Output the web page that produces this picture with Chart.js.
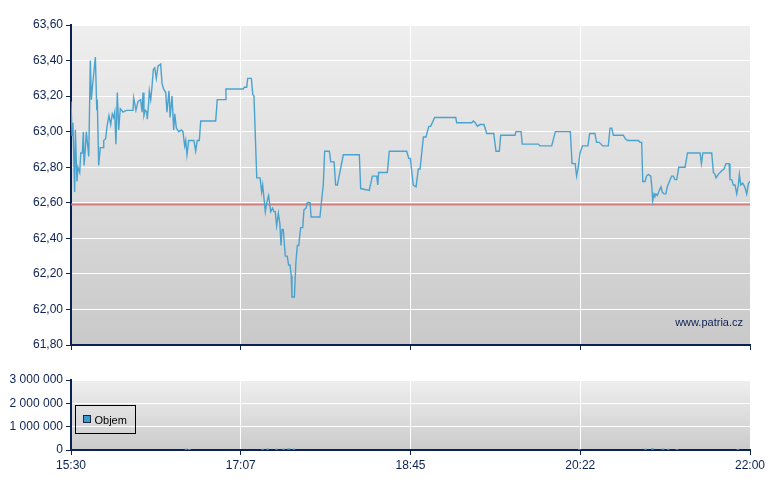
<!DOCTYPE html>
<html>
<head>
<meta charset="utf-8">
<script src="https://cdn.jsdelivr.net/npm/chart.js@4/dist/chart.umd.min.js"></script>
<style>
  body { margin: 0; background: #ffffff; }
  #wrap { position: relative; width: 780px; height: 490px; }
  canvas { position: absolute; left: 0; }
</style>
</head>
<body>
<div id="wrap">
  <canvas id="price" width="780" height="360" style="top:0"></canvas>
  <canvas id="volume" width="780" height="130" style="top:360px"></canvas>
</div>
<script>
// Intraday price + volume (15:30 - 22:00), x values are minutes after 15:30

const NAVY = "#0c2154";

const timeLabels = ["15:30", "17:07", "18:45", "20:22", "22:00"];
const priceTicks = [61.8, 62.0, 62.2, 62.4, 62.6, 62.8, 63.0, 63.2, 63.4, 63.6];
const volumeTicks = [0, 1000000, 2000000, 3000000];

const priceTimes = [
  0, 0.6, 1.1, 2.1, 2.5, 3.4, 4.0, 5.0, 5.6, 6.5, 7.1, 7.5, 8.2, 8.8, 10.2, 11.1, 11.7, 12.2,
  14.0, 14.8, 15.1, 15.9, 16.8, 18.4, 18.8, 19.9, 20.7, 21.8, 22.8, 23.7, 24.5, 25.1, 25.8,
  26.6, 27.4, 28.3, 29.9, 31.8, 35.6, 36.0, 37.3, 38.5, 40.0, 40.8, 41.4, 41.9, 42.7, 43.5,
  43.8, 44.6, 45.0, 45.8, 46.5, 47.3, 48.1, 49.0, 50.0, 51.5, 52.3, 53.2, 54.4, 55.1, 56.3,
  56.9, 58.0, 59.0, 59.6, 60.5, 61.9, 63.4, 64.3, 65.3, 65.9, 66.6, 67.6, 70.6, 71.6, 72.5,
  73.7, 74.5, 83.1, 84.0, 88.6, 89.0, 99.0, 99.5, 100.9, 101.5, 103.6, 104.4, 105.1, 106.7,
  108.6, 109.5, 110.1, 110.9, 111.6, 112.4, 113.5, 114.7, 115.8, 116.6, 117.3, 118.1, 119.1,
  120.0, 120.6, 121.2, 121.9, 123.1, 124.2, 125.0, 125.8, 126.5, 126.9, 128.3, 129.2, 130.0,
  130.8, 131.9, 133.1, 133.8, 135.0, 135.7, 137.3, 137.9, 143.0, 144.0, 144.9, 145.7, 148.4,
  149.2, 151.1, 152.0, 153.0, 156.4, 165.6, 166.4, 171.3, 173.1, 175.6, 176.2, 176.7, 181.7,
  182.8, 192.8, 194.0, 194.9, 196.6, 198.2, 199.5, 200.5, 202.4, 203.9, 205.5, 206.6, 208.9,
  221.0, 221.5, 230.2, 231.1, 232.2, 233.4, 234.9, 237.2, 238.8, 242.8, 244.1, 246.0, 246.8,
  255.0, 255.6, 258.5, 259.2, 268.4, 269.4, 276.1, 278.2, 286.8, 287.8, 289.6, 290.4, 291.2,
  292.4, 293.8, 296.9, 297.9, 300.9, 301.9, 303.4, 305.4, 308.6, 309.6, 310.6, 311.5, 317.2,
  318.4, 319.7, 325.9, 326.8, 327.8, 328.4, 329.7, 330.6, 331.6, 333.0, 333.7, 334.1, 334.9,
  335.4, 336.0, 336.8, 337.9, 338.9, 339.6, 340.6, 341.7, 342.5, 344.1, 345.0, 346.0, 346.9,
  347.9, 349.1, 352.7, 354.1, 361.3, 362.1, 362.9, 368.0, 369.0, 369.9, 370.5, 371.8, 373.8,
  375.1, 376.2, 378.0, 378.5, 379.5, 380.4, 381.4, 382.4, 383.3, 383.9, 384.7, 385.8, 387.0,
  388.1, 389.1, 390
];

const prices = [
  63.17, 62.98, 63.05, 62.66, 63.01, 62.72, 62.80, 62.77, 62.88, 62.88, 63.00, 62.81, 62.90, 63.00, 62.86, 63.40, 63.18, 63.24,
  63.42, 63.12, 63.18, 62.81, 62.91, 62.91, 62.95, 62.96, 63.03, 63.09, 63.04, 63.10, 63.08, 63.11, 62.93,
  63.22, 63.01, 63.13, 63.11, 63.12, 63.12, 63.19, 63.12, 63.17, 63.18, 63.11, 63.22, 63.09, 63.12, 63.11,
  63.07, 63.16, 63.23, 63.18, 63.25, 63.35, 63.36, 63.30, 63.37, 63.38, 63.27, 63.24, 63.22, 63.11, 63.23,
  63.08, 63.20, 63.01, 63.10, 63.02, 63.00, 63.01, 63.00, 62.92, 62.95, 62.87, 62.95, 62.95, 62.89, 62.95,
  62.95, 63.06, 63.06, 63.18, 63.18, 63.24, 63.24, 63.25, 63.25, 63.30, 63.30, 63.21, 63.20, 62.74,
  62.74, 62.66, 62.70, 62.62, 62.55, 62.60, 62.64, 62.55, 62.57, 62.55, 62.55, 62.47, 62.54,
  62.48, 62.36, 62.45, 62.45, 62.30, 62.30, 62.25, 62.25, 62.19, 62.07, 62.07, 62.27, 62.36,
  62.36, 62.46, 62.46, 62.56, 62.57, 62.60, 62.60, 62.52, 62.52, 62.62, 62.70, 62.89, 62.89,
  62.83, 62.83, 62.70, 62.70, 62.87, 62.87, 62.68, 62.67, 62.75, 62.75, 62.70, 62.77, 62.77,
  62.89, 62.89, 62.85, 62.85, 62.70, 62.69, 62.79, 62.79, 62.97, 62.97, 63.03, 63.03, 63.08,
  63.08, 63.05, 63.05, 63.06, 63.05, 63.03, 63.04, 63.04, 62.99, 62.99, 62.89, 62.89, 62.98,
  62.98, 63.00, 63.00, 62.93, 62.93, 62.92, 62.92, 63.00, 63.00, 62.82, 62.82, 62.75, 62.79,
  62.88, 62.92, 62.92, 62.99, 62.99, 62.94, 62.94, 62.92, 62.92, 63.02, 63.02, 62.98, 62.98,
  62.96, 62.95, 62.95, 62.94, 62.94, 62.72, 62.72, 62.75, 62.76, 62.75, 62.68, 62.61, 62.65,
  62.64, 62.65, 62.64, 62.67, 62.69, 62.66, 62.65, 62.65, 62.69, 62.73, 62.75, 62.75, 62.73,
  62.73, 62.80, 62.80, 62.88, 62.88, 62.82, 62.88, 62.88, 62.77, 62.76, 62.74, 62.76, 62.78,
  62.79, 62.82, 62.82, 62.73, 62.73, 62.70, 62.70, 62.65, 62.70, 62.76, 62.70, 62.71, 62.69,
  62.65, 62.71, 62.72
];

// previous close, drawn as the red line
const referencePrice = 62.59;

const volumeTimes = [66, 68, 110, 113, 118, 122, 125, 128, 292, 330, 334, 340, 343, 348, 383];
const volumes = [40000, 30000, 35000, 50000, 40000, 45000, 60000, 45000, 30000, 40000, 60000, 45000, 35000, 30000, 30000];
const volumeLabel = "Objem";

Chart.defaults.font.family = "'Liberation Sans', Arial, sans-serif";
Chart.defaults.font.size = 12;
Chart.defaults.color = NAVY;

// gradient fill behind the plot area
const plotBackground = {
  id: "plotBackground",
  beforeDraw(chart, args, opts) {
    const { ctx, chartArea: a } = chart;
    const g = ctx.createLinearGradient(0, a.top, 0, a.bottom);
    g.addColorStop(0, opts.top);
    g.addColorStop(1, opts.bottom);
    ctx.save();
    ctx.fillStyle = g;
    ctx.fillRect(a.left, a.top, a.right - a.left, a.bottom - a.top);
    ctx.restore();
  },
};

const watermark = {
  id: "watermark",
  afterDraw(chart) {
    const { ctx, chartArea: a } = chart;
    ctx.save();
    ctx.font = "11px 'Liberation Sans', Arial, sans-serif";
    ctx.fillStyle = NAVY;
    ctx.textAlign = "right";
    ctx.textBaseline = "middle";
    ctx.fillText("www.patria.cz", a.right - 7, a.bottom - 22);
    ctx.restore();
  },
};

const boxLegend = {
  id: "boxLegend",
  afterDraw(chart) {
    const { ctx, chartArea: a } = chart;
    const x = a.left + 4.5;
    const y = a.top + 25.5;
    ctx.save();
    ctx.strokeStyle = "#000000";
    ctx.lineWidth = 1;
    ctx.strokeRect(x, y, 60, 28);
    ctx.fillStyle = "#3d9bd0";
    ctx.fillRect(x + 8, y + 10, 7, 7);
    ctx.strokeStyle = "#1a2a40";
    ctx.strokeRect(x + 8, y + 10, 7, 7);
    ctx.font = "11px 'Liberation Sans', Arial, sans-serif";
    ctx.fillStyle = "#000000";
    ctx.textBaseline = "middle";
    ctx.fillText(volumeLabel, x + 19, y + 15);
    ctx.restore();
  },
};

const timeAxis = (showLabels, height) => ({
  type: "linear",
  min: 0,
  max: 390,
  offset: false,
  afterBuildTicks: (s) => {
    s.ticks = timeLabels.map((l, i) => ({ value: i * 97.5 }));
  },
  afterFit: (s) => {
    s.height = height;
  },
  grid: {
    offset: false,
    color: (c) => (c.index === 0 ? "rgba(0,0,0,0)" : "#ffffff"),
    tickColor: NAVY,
    tickLength: 5,
  },
  border: { color: NAVY, width: 2 },
  ticks: {
    display: showLabels,
    color: NAVY,
    padding: 3,
    maxRotation: 0,
    autoSkip: false,
    callback: (v, i) => timeLabels[i],
  },
});

const priceChart = new Chart(document.getElementById("price"), {
  type: "line",
  data: {
    datasets: [
      {
        data: priceTimes.map((t, i) => ({ x: t, y: prices[i] })),
        borderColor: "#4aa3cf",
        borderWidth: 1.4,
        pointRadius: 0,
        tension: 0,
        order: 1,
      },
      {
        data: [
          { x: 0, y: referencePrice },
          { x: 390, y: referencePrice },
        ],
        borderColor: "rgba(214, 110, 110, 0.85)",
        borderWidth: 2,
        pointRadius: 0,
        order: 2,
      },
    ],
  },
  options: {
    responsive: false,
    animation: false,
    layout: { padding: { top: 25, right: 30, left: 0, bottom: 0 } },
    scales: {
      x: timeAxis(false, 15),
      y: {
        min: 61.8,
        max: 63.6,
        afterBuildTicks: (s) => {
          s.ticks = priceTicks.map((v) => ({ value: v }));
        },
        afterFit: (s) => {
          s.width = 71;
        },
        grid: { color: "#ffffff", tickColor: NAVY, tickLength: 5 },
        border: { color: NAVY, width: 2 },
        ticks: {
          color: NAVY,
          padding: 3,
          callback: (v) => v.toFixed(2).replace(".", ","),
        },
      },
    },
    plugins: {
      legend: { display: false },
      tooltip: { enabled: false },
      plotBackground: { top: "#efefef", bottom: "#c9c9c9" },
    },
  },
  plugins: [plotBackground, watermark],
});

const volumeChart = new Chart(document.getElementById("volume"), {
  type: "bar",
  data: {
    datasets: [
      {
        label: volumeLabel,
        data: volumeTimes.map((t, i) => ({ x: t, y: volumes[i] })),
        backgroundColor: "#3d9bd0",
        barThickness: 2,
      },
    ],
  },
  options: {
    responsive: false,
    animation: false,
    layout: { padding: { top: 20, right: 30, left: 0, bottom: 0 } },
    scales: {
      x: timeAxis(true, 40),
      y: {
        min: 0,
        max: 3000000,
        afterBuildTicks: (s) => {
          s.ticks = volumeTicks.map((v) => ({ value: v }));
        },
        afterFit: (s) => {
          s.width = 71;
        },
        grid: { color: "#ffffff", tickColor: NAVY, tickLength: 5 },
        border: { color: NAVY, width: 2 },
        ticks: {
          color: NAVY,
          padding: 3,
          callback: (v) => String(v).replace(/\B(?=(\d{3})+(?!\d))/g, " "),
        },
      },
    },
    plugins: {
      legend: { display: false },
      tooltip: { enabled: false },
      plotBackground: { top: "#efefef", bottom: "#cbcbcb" },
    },
  },
  plugins: [plotBackground, boxLegend],
});
</script>
</body>
</html>
